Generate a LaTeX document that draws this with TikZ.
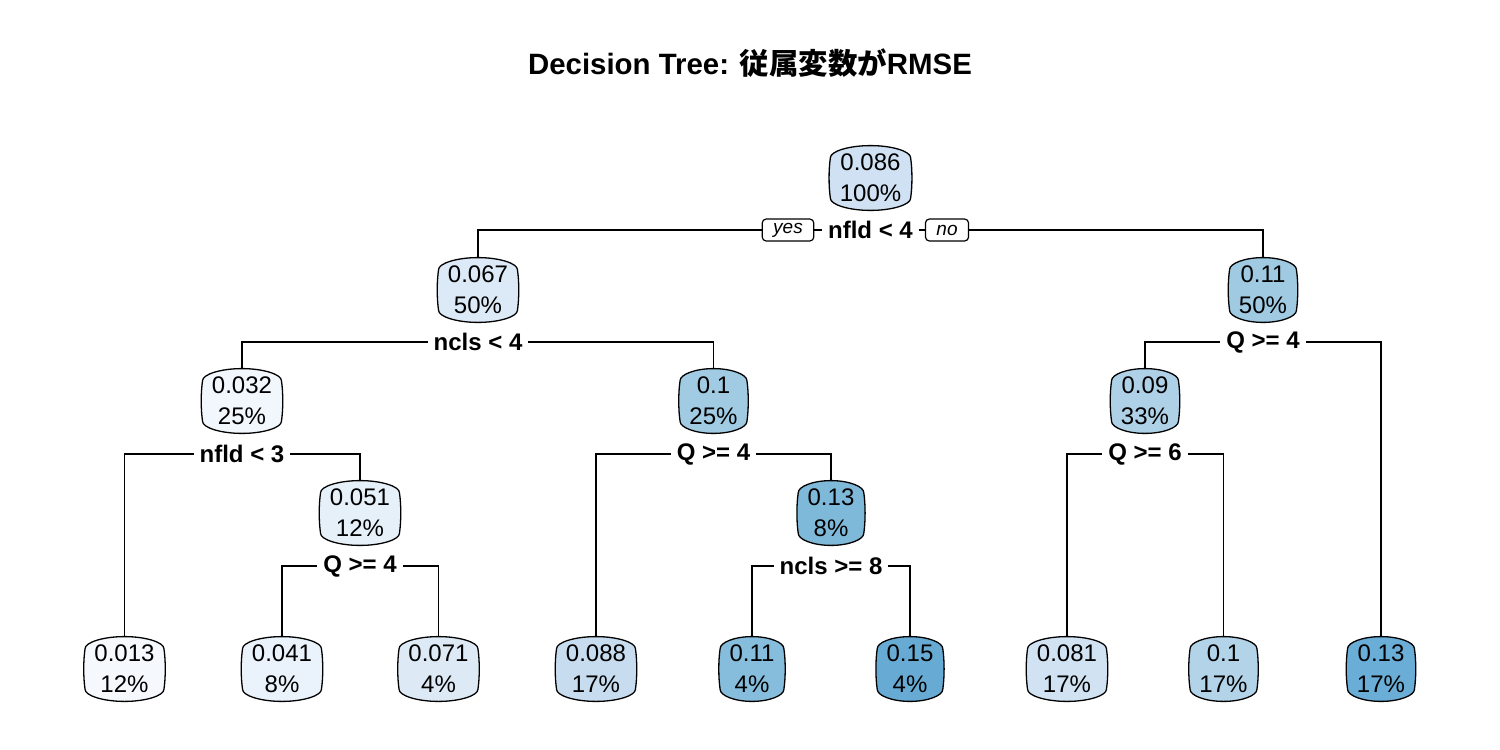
\documentclass[tikz,border=0pt]{standalone}
\usepackage{fontspec}
\setmainfont{Liberation Sans}
\newfontfamily\cjk{Noto Sans CJK JP}
\usetikzlibrary{calc}
\pgfdeclarelayer{edges}
\pgfdeclarelayer{boxes}
\pgfsetlayers{edges,boxes,main}
\definecolor{c013}{HTML}{F5F9FE}
\definecolor{c032}{HTML}{F2F7FD}
\definecolor{c041}{HTML}{EAF3FB}
\definecolor{c051}{HTML}{E6F0F9}
\definecolor{c067}{HTML}{DCE9F6}
\definecolor{c071}{HTML}{DDEAF6}
\definecolor{c081}{HTML}{D1E3F3}
\definecolor{c086}{HTML}{CFE1F2}
\definecolor{c088}{HTML}{C8DCEF}
\definecolor{c09}{HTML}{AFD1E7}
\definecolor{c1a}{HTML}{A0CBE2}
\definecolor{c1b}{HTML}{B2D3E8}
\definecolor{c11a}{HTML}{9FCAE1}
\definecolor{c11b}{HTML}{86BDDC}
\definecolor{c13a}{HTML}{7FB9DA}
\definecolor{c13b}{HTML}{6AADD6}
\definecolor{c15}{HTML}{67ABD4}
\newcommand\barrelbox[2]{%
  \path[fill=#2,draw=black,line width=0.65pt]
    let \p1=(#1.north west), \p2=(#1.south east), \p3=(#1.north), \p4=(#1.south),
        \p5=($(#1.north west)!0.22!(#1.north east)$),
        \p6=($(#1.north west)!0.78!(#1.north east)$) in
    (\x1,\y1-6pt) .. controls (\x1,\y1-3pt) and (\x5,\y1) .. (\x3,\y1)
    .. controls (\x6,\y1) and (\x2,\y1-3pt) .. (\x2,\y1-6pt)
    .. controls (\x2+0.9pt,\y1-12pt) and (\x2+0.9pt,\y2+12pt) .. (\x2,\y2+6pt)
    .. controls (\x2,\y2+3pt) and (\x6,\y2) .. (\x4,\y2)
    .. controls (\x5,\y2) and (\x1,\y2+3pt) .. (\x1,\y2+6pt)
    .. controls (\x1-0.9pt,\y2+12pt) and (\x1-0.9pt,\y1-12pt) .. (\x1,\y1-6pt) -- cycle;}
\tikzset{
  box/.style={font=\fontsize{12}{15.5}\selectfont, align=center, inner xsep=4.5pt, inner ysep=0pt, minimum height=32pt},
  splitlab/.style={font=\bfseries\fontsize{12}{14}\selectfont, fill=white, inner xsep=3pt, inner ysep=1pt},
  yn/.style={font=\itshape\fontsize{9.5}{11}\selectfont, draw, fill=white, rounded corners=2pt, line width=0.6pt, minimum height=11pt, inner xsep=5.5pt, inner ysep=0pt},
  edge/.style={draw=black, line width=0.65pt}
}
\begin{document}
\begin{tikzpicture}[x=0.5pt,y=-0.5pt]
\useasboundingbox (0,0) rectangle (1500,750);
\node[font=\bfseries\fontsize{14.7}{17}\selectfont] (title) at (750,63) {Decision Tree: {\cjk 従属変数が}RMSE};
% tree nodes
\node[box] (n0) at (870.5,178) {0.086\\100\%};
\node[box] (n1) at (478,290) {0.067\\50\%};
\node[box] (n2) at (1263,290) {0.11\\50\%};
\node[box] (n3) at (242,401) {0.032\\25\%};
\node[box] (n4) at (713.5,401) {0.1\\25\%};
\node[box] (n5) at (1145,401) {0.09\\33\%};
\node[box] (n6) at (360,513) {0.051\\12\%};
\node[box] (n7) at (831,513) {0.13\\8\%};
\node[box] (l1) at (124.5,669) {0.013\\12\%};
\node[box] (l2) at (282,669) {0.041\\8\%};
\node[box] (l3) at (438.5,669) {0.071\\4\%};
\node[box] (l4) at (596,669) {0.088\\17\%};
\node[box] (l5) at (752,669) {0.11\\4\%};
\node[box] (l6) at (910,669) {0.15\\4\%};
\node[box] (l7) at (1067,669) {0.081\\17\%};
\node[box] (l8) at (1223.5,669) {0.1\\17\%};
\node[box] (l9) at (1381,669) {0.13\\17\%};
% split labels
\node[splitlab] (s0) at (870.5,230) {nfld < 4};
\node[splitlab] (s1) at (478,342) {ncls < 4};
\node[splitlab] (s2) at (1263,342) {Q >= 4};
\node[splitlab] (s3) at (242,454) {nfld < 3};
\node[splitlab] (s4) at (713.5,454) {Q >= 4};
\node[splitlab] (s5) at (1145,454) {Q >= 6};
\node[splitlab] (s6) at (360,566) {Q >= 4};
\node[splitlab] (s7) at (831,566) {ncls >= 8};
\node[yn] (yes) at (788,230) {yes};
\node[yn] (no) at (947,230) {no};
\begin{pgfonlayer}{edges}
\draw[edge] (n1.north) |- (s0.center) -| (n2.north);
\draw[edge] (n3.north) |- (s1.center) -| (n4.north);
\draw[edge] (n5.north) |- (s2.center) -| (l9.north);
\draw[edge] (l1.north) |- (s3.center) -| (n6.north);
\draw[edge] (l4.north) |- (s4.center) -| (n7.north);
\draw[edge] (l7.north) |- (s5.center) -| (l8.north);
\draw[edge] (l2.north) |- (s6.center) -| (l3.north);
\draw[edge] (l5.north) |- (s7.center) -| (l6.north);
\end{pgfonlayer}
\begin{pgfonlayer}{boxes}
\barrelbox{n0}{c086}
\barrelbox{n1}{c067}
\barrelbox{n2}{c11a}
\barrelbox{n3}{c032}
\barrelbox{n4}{c1a}
\barrelbox{n5}{c09}
\barrelbox{n6}{c051}
\barrelbox{n7}{c13a}
\barrelbox{l1}{c013}
\barrelbox{l2}{c041}
\barrelbox{l3}{c071}
\barrelbox{l4}{c088}
\barrelbox{l5}{c11b}
\barrelbox{l6}{c15}
\barrelbox{l7}{c081}
\barrelbox{l8}{c1b}
\barrelbox{l9}{c13b}
\end{pgfonlayer}
\end{tikzpicture}
\end{document}
